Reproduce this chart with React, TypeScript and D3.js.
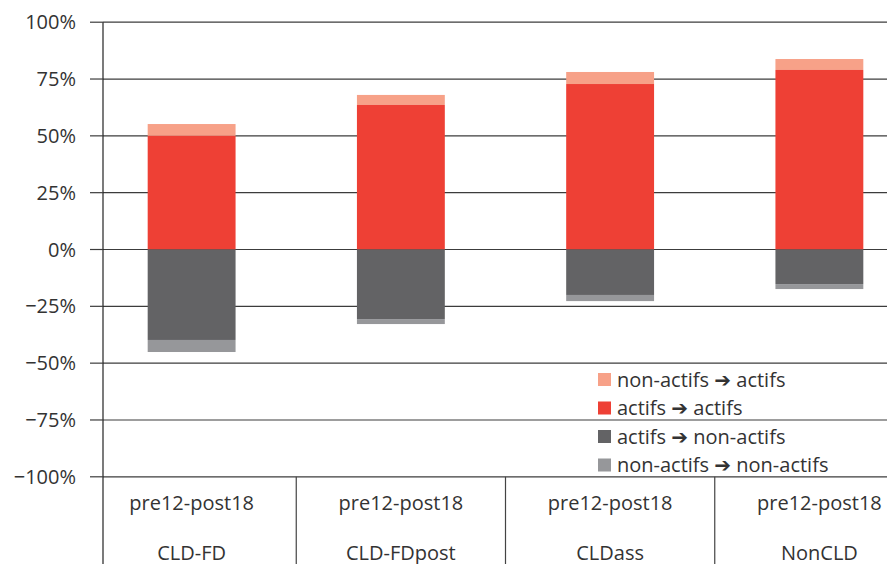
import React from "react";
import * as d3 from "d3";

const categories = ["CLD-FD", "CLD-FDpost", "CLDass", "NonCLD"];
const periodLabel = "pre12-post18";
const actifsActifs = [50.0, 63.6, 72.8, 79.0];
const nonActifsActifs = [5.2, 4.4, 5.3, 4.8];
const actifsNonActifs = [-39.8, -30.6, -20.0, -15.2];
const nonActifsNonActifs = [-5.3, -2.2, -2.7, -2.2];
const yTicks = [100, 75, 50, 25, 0, -25, -50, -75, -100];

const seriesNames = [
  "non-actifs \u2794 actifs",
  "actifs \u2794 actifs",
  "actifs \u2794 non-actifs",
  "non-actifs \u2794 non-actifs",
];
const seriesColors = ["#F7A188", "#EE4035", "#636365", "#96979A"];

const W = 887;
const H = 564;
const AXIS_X = 103;
const FONT = "'Open Sans', 'DejaVu Sans', sans-serif";

export default function App() {
  const y = d3.scaleLinear().domain([-100, 100]).range([476.8, 22.2]);
  const x = d3.scaleBand<string>().domain(categories).range([87, 924]).paddingInner(0);
  const barW = x.bandwidth() * 0.42;

  const stacks = categories.map((c, i) => {
    const cx = (x(c) as number) + x.bandwidth() / 2;
    return [
      { key: 0, y0: actifsActifs[i], y1: actifsActifs[i] + nonActifsActifs[i], cx },
      { key: 1, y0: 0, y1: actifsActifs[i], cx },
      { key: 2, y0: actifsNonActifs[i], y1: 0, cx },
      { key: 3, y0: actifsNonActifs[i] + nonActifsNonActifs[i], y1: actifsNonActifs[i], cx },
    ];
  });

  const fmt = (v: number) => (v < 0 ? "\u2212" + Math.abs(v) : String(v)) + "%";
  const legendY0 = 379.5;
  const legendStep = 28.5;

  return (
    <svg
      width={W}
      height={H}
      style={{ position: "absolute", left: 0, top: 0, background: "#fff" }}
      fontFamily={FONT}
    >
      {/* gridlines */}
      {yTicks.map((t) => (
        <line key={"g" + t} x1={AXIS_X} x2={W} y1={y(t)} y2={y(t)} stroke="#3c3c3c" strokeWidth={1.2} />
      ))}
      {/* bars */}
      {stacks.map((segs, i) =>
        segs.map((s) => (
          <rect
            key={i + "-" + s.key}
            x={s.cx - barW / 2}
            width={barW}
            y={y(s.y1)}
            height={y(s.y0) - y(s.y1)}
            fill={seriesColors[s.key]}
          />
        ))
      )}
      {/* y axis */}
      <line x1={AXIS_X} x2={AXIS_X} y1={y(100)} y2={H} stroke="#222" strokeWidth={1.2} />
      {yTicks.map((t) => (
        <g key={"t" + t}>
          <line x1={90} x2={AXIS_X} y1={y(t)} y2={y(t)} stroke="#3c3c3c" strokeWidth={1.2} />
          <text x={76} y={y(t) + 7} textAnchor="end" fontSize={20} fill="#333">
            {fmt(t)}
          </text>
        </g>
      ))}
      {/* category dividers */}
      {categories.slice(1).map((c) => (
        <line key={"d" + c} x1={x(c) as number} x2={x(c) as number} y1={y(-100)} y2={H} stroke="#444" strokeWidth={1.2} />
      ))}
      {/* category labels */}
      {categories.map((c) => {
        const cx = (x(c) as number) + x.bandwidth() / 2;
        return (
          <g key={"l" + c}>
            <text x={cx} y={510} textAnchor="middle" fontSize={20} fill="#333">
              {periodLabel}
            </text>
            <text x={cx} y={560} textAnchor="middle" fontSize={20} fill="#333">
              {c}
            </text>
          </g>
        );
      })}
      {/* legend */}
      {seriesNames.map((n, i) => (
        <g key={"lg" + i}>
          <rect x={598} y={legendY0 + i * legendStep - 6.5} width={13} height={13} fill={seriesColors[i]} />
          <text x={617} y={legendY0 + i * legendStep + 7} fontSize={20} fill="#333">
            {n}
          </text>
        </g>
      ))}
    </svg>
  );
}
